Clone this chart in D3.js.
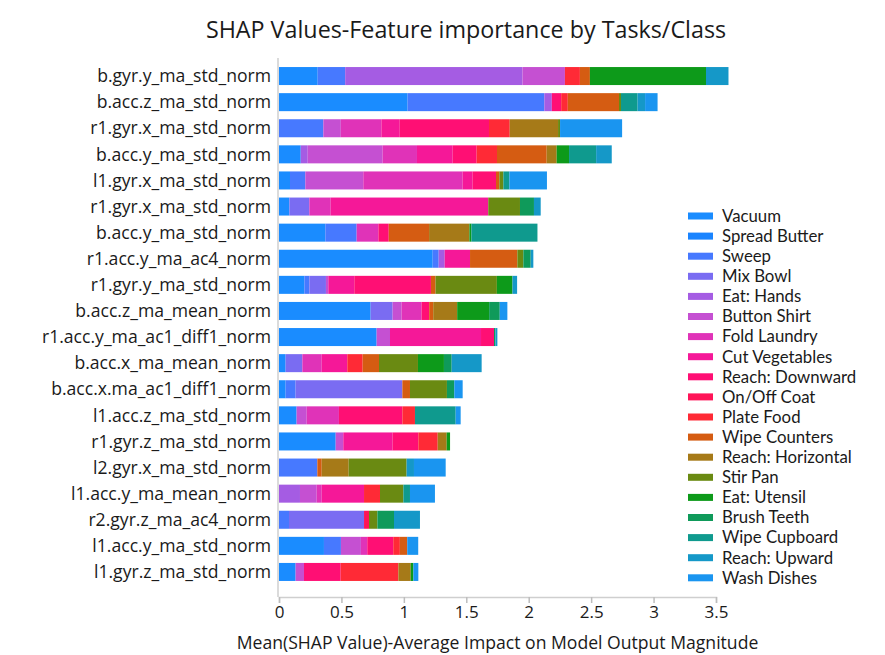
<!DOCTYPE html>
<html>
<head>
<meta charset="utf-8">
<script src="https://cdn.jsdelivr.net/npm/d3@7"></script>
<style>
  body { margin: 0; background: #fff; }
  text { font-family: "Open Sans", "DejaVu Sans", sans-serif; fill: #1a1a1a; }
  .legend text { font-family: Lato, "Open Sans", sans-serif; }
</style>
</head>
<body>
<div id="chart"></div>
<script>
const tasks = ["Vacuum", "Spread Butter", "Sweep", "Mix Bowl", "Eat: Hands", "Button Shirt",
    "Fold Laundry", "Cut Vegetables", "Reach: Downward", "On/Off Coat", "Plate Food",
    "Wipe Counters", "Reach: Horizontal", "Stir Pan", "Eat: Utensil", "Brush Teeth",
    "Wipe Cupboard", "Reach: Upward", "Wash Dishes"];

const features = ["b.gyr.y_ma_std_norm", "b.acc.z_ma_std_norm", "r1.gyr.x_ma_std_norm",
    "b.acc.y_ma_std_norm", "l1.gyr.x_ma_std_norm", "r1.gyr.x_ma_std_norm ", "b.acc.y_ma_std_norm ",
    "r1.acc.y_ma_ac4_norm", "r1.gyr.y_ma_std_norm", "b.acc.z_ma_mean_norm",
    "r1.acc.y_ma_ac1_diff1_norm", "b.acc.x_ma_mean_norm", "b.acc.x.ma_ac1_diff1_norm",
    "l1.acc.z_ma_std_norm", "r1.gyr.z_ma_std_norm", "l2.gyr.x_ma_std_norm",
    "l1.acc.y_ma_mean_norm", "r2.gyr.z_ma_ac4_norm", "l1.acc.y_ma_std_norm", "l1.gyr.z_ma_std_norm"];

// one row per feature, one value per task (same order as tasks)
const shap = [
    [0.31, 0, 0.22, 0, 1.42, 0.34, 0, 0, 0, 0, 0.12, 0.08, 0, 0, 0.93, 0, 0, 0.18, 0],
    [1.03, 0, 1.095, 0, 0.06, 0, 0, 0, 0.075, 0, 0.053, 0.41, 0, 0.016, 0, 0, 0.133, 0.06, 0.1],
    [0, 0, 0.355, 0, 0, 0.14, 0.325, 0.147, 0.715, 0, 0.166, 0, 0.387, 0.016, 0, 0, 0, 0, 0.497],
    [0.174, 0, 0, 0, 0.056, 0.6, 0.275, 0.286, 0.192, 0, 0.163, 0.398, 0.08, 0, 0.099, 0, 0.217, 0.125, 0],
    [0.088, 0, 0.123, 0, 0, 0.464, 0.796, 0.08, 0.187, 0, 0, 0.027, 0, 0.032, 0, 0, 0.048, 0, 0.301],
    [0.083, 0, 0, 0.16, 0, 0, 0.171, 1.262, 0, 0, 0, 0, 0, 0.254, 0, 0.112, 0, 0.054, 0],
    [0.371, 0, 0.251, 0, 0, 0, 0.174, 0, 0.083, 0, 0, 0.323, 0.323, 0, 0.016, 0, 0.529, 0, 0],
    [1.231, 0, 0.048, 0, 0.048, 0, 0, 0.203, 0, 0, 0, 0.379, 0, 0.048, 0, 0.059, 0, 0.021, 0],
    [0.203, 0, 0.04, 0.133, 0, 0.019, 0, 0.208, 0.614, 0, 0, 0.037, 0, 0.491, 0.125, 0, 0, 0.037, 0],
    [0.734, 0, 0, 0.176, 0, 0.072, 0.16, 0, 0.061, 0, 0, 0.032, 0.192, 0, 0.256, 0.085, 0, 0, 0.061],
    [0.782, 0, 0, 0, 0, 0.107, 0, 0.729, 0.104, 0, 0, 0, 0, 0, 0, 0.011, 0, 0.016, 0],
    [0.053, 0, 0, 0.134, 0, 0, 0.155, 0.205, 0, 0, 0.123, 0.131, 0, 0.312, 0.208, 0.062, 0, 0.24, 0],
    [0.053, 0, 0.08, 0.855, 0, 0, 0, 0, 0, 0, 0, 0.061, 0, 0.296, 0, 0.059, 0, 0, 0.067],
    [0.141, 0, 0, 0, 0, 0.081, 0.258, 0, 0.508, 0, 0.101, 0, 0, 0, 0, 0, 0.326, 0, 0.04],
    [0.454, 0, 0, 0, 0, 0.061, 0, 0.395, 0.206, 0, 0.155, 0, 0.072, 0, 0.027, 0, 0, 0, 0],
    [0, 0, 0.307, 0, 0, 0, 0, 0, 0, 0, 0, 0.035, 0.216, 0.464, 0, 0, 0, 0.059, 0.254],
    [0, 0, 0, 0, 0.168, 0.134, 0.04, 0.339, 0, 0, 0.128, 0, 0, 0.187, 0, 0, 0.053, 0, 0.2],
    [0, 0, 0.08, 0.601, 0, 0, 0, 0, 0, 0.04, 0, 0, 0, 0.067, 0, 0.133, 0, 0.208, 0],
    [0.36, 0, 0.136, 0, 0, 0.16, 0.051, 0, 0.208, 0, 0.053, 0.059, 0, 0, 0, 0, 0, 0, 0.088],
    [0.133, 0, 0, 0, 0, 0.067, 0, 0, 0.294, 0, 0.462, 0, 0.099, 0, 0.021, 0, 0, 0, 0.04]
];

const xTicks = [0, 0.5, 1, 1.5, 2, 2.5, 3, 3.5];

const palette = ["#1a8cff", "#1a84ff", "#4779ff", "#7a6cf2", "#a55ce3", "#c550d2", "#e033b8",
    "#f51898", "#ff0f74", "#ff1458", "#ff2a36", "#d55c12", "#a67a18", "#6a8a12", "#0d9a1a",
    "#0f9a5a", "#0f9a8e", "#1598c8", "#1a95f0"];

const width = 885, height = 655;
const margin = {top: 63, right: 169, bottom: 70, left: 279};

const svg = d3.select("#chart").append("svg")
    .attr("width", width)
    .attr("height", height);

const x = d3.scaleLinear().domain([0, 3.5]).range([margin.left, width - margin.right]);
const y = d3.scaleBand().domain(features).range([margin.top, height - margin.bottom])
    .paddingInner(0.31).paddingOuter(0.155);
const color = d3.scaleOrdinal().domain(tasks).range(palette);

// build the stacked table from the rows
const table = shap.map((row, i) => {
    const o = {feature: features[i]};
    tasks.forEach((t, j) => o[t] = row[j]);
    return o;
});
const series = d3.stack().keys(tasks)(table);

svg.append("g")
    .selectAll("g")
    .data(series)
    .join("g")
    .attr("fill", d => color(d.key))
    .selectAll("rect")
    .data(d => d.filter(s => s[1] - s[0] > 0))
    .join("rect")
    .attr("x", d => x(d[0]))
    .attr("y", d => y(d.data.feature))
    .attr("width", d => x(d[1]) - x(d[0]))
    .attr("height", y.bandwidth());

// axes
const axisY = height - margin.bottom + 12;
svg.append("line")
    .attr("x1", x(0) - 1).attr("x2", x(0) - 1)
    .attr("y1", margin.top - 5).attr("y2", axisY)
    .attr("stroke", "#cfcfcf").attr("stroke-width", 1.5);

const xAxis = svg.append("g")
    .attr("transform", `translate(0, ${axisY})`)
    .call(d3.axisBottom(x).tickValues(xTicks).tickSize(6).tickPadding(3).tickFormat(d3.format("~g")));
xAxis.select(".domain").attr("stroke", "#cfcfcf").attr("stroke-width", 1.5);
xAxis.selectAll(".tick line").attr("stroke", "#bdbdbd").attr("stroke-width", 1.5);
xAxis.selectAll(".tick text").style("font-size", "17px").attr("fill", "#1a1a1a");

svg.append("g")
    .selectAll("text")
    .data(features)
    .join("text")
    .attr("x", margin.left - 8)
    .attr("y", d => y(d) + y.bandwidth() / 2)
    .attr("dy", "0.35em")
    .attr("text-anchor", "end")
    .style("font-size", "17.6px")
    .text(d => d.trim());

svg.append("text")
    .attr("x", 466).attr("y", 38)
    .attr("text-anchor", "middle")
    .style("font-size", "23.3px")
    .text("SHAP Values-Feature importance by Tasks/Class");

svg.append("text")
    .attr("x", (x(0) + x(3.5)) / 2).attr("y", 649)
    .attr("text-anchor", "middle")
    .style("font-size", "17.6px")
    .text("Mean(SHAP Value)-Average Impact on Model Output Magnitude");

// legend
const legend = svg.append("g")
    .attr("class", "legend")
    .selectAll("g")
    .data(tasks)
    .join("g")
    .attr("transform", (d, i) => `translate(688, ${216 + i * 20.1})`);
legend.append("rect")
    .attr("y", -3.5).attr("width", 25).attr("height", 7)
    .attr("fill", d => color(d));
legend.append("text")
    .attr("x", 34).attr("dy", "0.35em")
    .style("font-size", "16.8px")
    .text(d => d);
</script>
</body>
</html>
